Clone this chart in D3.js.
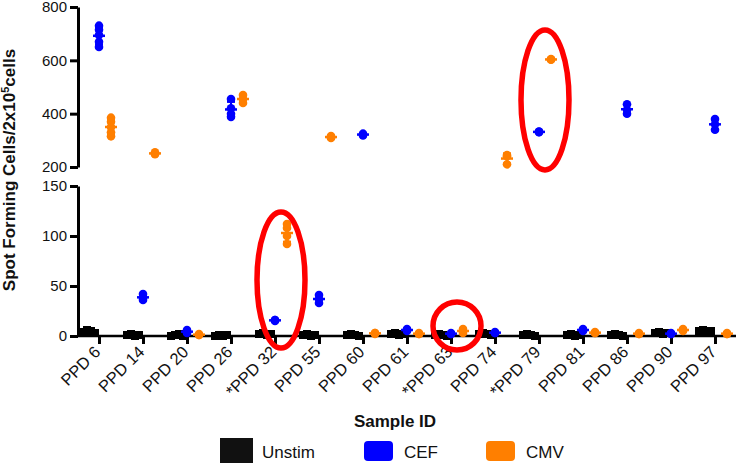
<!DOCTYPE html>
<html><head><meta charset="utf-8">
<script src="https://cdn.jsdelivr.net/npm/d3@7"></script>
<style>body{margin:0;background:#fff} text{font-family:"Liberation Sans",Arial,sans-serif}</style>
</head><body><svg id="c" width="736" height="465"></svg>
<script>
const categories = ["PPD 6","PPD 14","PPD 20","PPD 26","*PPD 32","PPD 55","PPD 60","PPD 61","*PPD 63","PPD 74","*PPD 79","PPD 81","PPD 86","PPD 90","PPD 97"];
const unstim = [[4,6,5,3],[1,2,0,1],[0,1,2,0],[0,1,0,1],[2,3,1,2],[1,2,0,1],[1,2,1,0],[2,3,1,2],[1,2,1,0],[2,3,2,1],[1,2,1,0],[1,2,0,1],[1,2,1,0],[3,4,2,3],[5,6,4,5]];
const cef = [[730,715,695,670,650],[42,38,36],[6,4,3],[455,420,400,388],[16,15,16],[41,37,33],[325,318,322],[7,5,6],[2,3,2],[4,3,3],[332,330,333],[7,5,6],[435,415,400],[3,2,2],[380,360,340]];
const cmv = [[385,370,350,330,315],[255,250,248],[1,2,1],[470,455,440],[112,108,100,92],[316,312,309],[3,2,3],[2,3,2],[7,5,3],[245,240,210],[605,602,603],[3,4,3],[2,3,2],[7,6,5],[2,3,2]];
const yTicksTop = [200,400,600,800];
const yTicksBottom = [0,50,100,150];
const seriesNames = ["Unstim","CEF","CMV"];
const colors = ["#000000","#0000ff","#ff7f00"];
// highlighted groups (red ellipses): category, value range
const highlights = [
  {cat:"*PPD 79", lo:189, hi:714},
  {cat:"*PPD 32", lo:-12, hi:124},
  {cat:"*PPD 63", lo:-14, hi:34}
];

const svg = d3.select("#c");
const x = d3.scalePoint().domain(categories).range([99,715]);
const yTop = d3.scaleLinear().domain([200,800]).range([167,7]);
const yBot = d3.scaleLinear().domain([0,150]).range([336,186]);
const y = v => v > 175 ? yTop(v) : yBot(v);
const offsets = [-10, 0, 12];

function styleAxis(g){
  g.select(".domain").attr("stroke","#000").attr("stroke-width",3);
  g.selectAll(".tick line").attr("stroke","#000").attr("stroke-width",3);
  g.selectAll(".tick text").attr("fill","#111").style("font-size","15px");
}
svg.append("g").attr("transform","translate(78,0)")
  .call(d3.axisLeft(yTop).tickValues(yTicksTop).tickSize(8).tickSizeOuter(0).tickPadding(3)).call(styleAxis);
svg.append("g").attr("transform","translate(78,0)")
  .call(d3.axisLeft(yBot).tickValues(yTicksBottom).tickSize(8).tickSizeOuter(0).tickPadding(3)).call(styleAxis);

const xg = svg.append("g").attr("transform","translate(0,336)")
  .call(d3.axisBottom(x).tickSize(8).tickSizeOuter(0));
xg.select(".domain").remove();
xg.append("line").attr("x1",78).attr("x2",736).attr("y1",0).attr("y2",0).attr("stroke","#000").attr("stroke-width",2.5);
xg.selectAll(".tick line").attr("stroke","#000").attr("stroke-width",3);
xg.selectAll(".tick text").attr("fill","#111").style("font-size","16.5px")
  .attr("text-anchor","end").attr("x",0).attr("y",0).attr("dy",0)
  .attr("transform","translate(2,17) rotate(-45)");

// data marks
const data = [unstim, cef, cmv];
const plot = svg.append("g");
data.forEach((series, si) => {
  series.forEach((vals, ci) => {
    const cx = x(categories[ci]) + offsets[si];
    const col = colors[si];
    const mean = d3.mean(vals), sd = d3.deviation(vals) || 0;
    const g = plot.append("g");
    g.append("line").attr("x1",cx).attr("x2",cx).attr("y1",y(mean-sd)).attr("y2",y(mean+sd)).attr("stroke",col).attr("stroke-width",2);
    [mean-sd, mean+sd].forEach(v => g.append("line").attr("x1",cx-4).attr("x2",cx+4).attr("y1",y(v)).attr("y2",y(v)).attr("stroke",col).attr("stroke-width",2.5));
    g.append("line").attr("x1",cx-6).attr("x2",cx+6).attr("y1",y(mean)).attr("y2",y(mean)).attr("stroke",col).attr("stroke-width",2.5);
    if (si === 0) {
      const n = vals.length;
      vals.forEach((v,i) => {
        const px = cx + (i - (n-1)/2) * 4;
        g.append("rect").attr("x",px-4).attr("y",y(v)-4).attr("width",8).attr("height",8).attr("fill",col);
      });
    } else {
      vals.forEach(v => g.append("circle").attr("cx",cx).attr("cy",y(v)).attr("r",4.3).attr("fill",col));
    }
  });
});

// red ellipses
highlights.forEach(h => {
  const cx = x(h.cat) + 6;
  const y1 = y(h.hi), y2 = y(h.lo);
  svg.append("ellipse").attr("cx",cx).attr("cy",(y1+y2)/2).attr("rx",24).attr("ry",(y2-y1)/2)
    .attr("fill","none").attr("stroke","#ff0000").attr("stroke-width",5.5);
});

// titles
svg.append("text").attr("transform","translate(15,170) rotate(-90)").attr("text-anchor","middle")
  .style("font-size","17px").style("font-weight","bold").attr("fill","#111")
  .html('Spot Forming Cells/2x10<tspan dy="-6" style="font-size:11px">5</tspan><tspan dy="6">cells</tspan>');
svg.append("text").attr("x",395).attr("y",427).attr("text-anchor","middle")
  .style("font-size","17px").style("font-weight","bold").attr("fill","#111").text("Sample ID");

// legend
const legX = [220, 364, 486];
const lg = svg.append("g");
seriesNames.forEach((name, i) => {
  if (i === 0) lg.append("rect").attr("x",legX[i]).attr("y",438).attr("width",33).attr("height",25).attr("fill","#111");
  else lg.append("rect").attr("x",legX[i]).attr("y",441).attr("width",29).attr("height",20).attr("rx",4).attr("fill",colors[i]);
  lg.append("text").attr("x",legX[i] + (i===0?42:40)).attr("y",458).style("font-size","17px").attr("fill","#111").text(name);
});
</script></body></html>
